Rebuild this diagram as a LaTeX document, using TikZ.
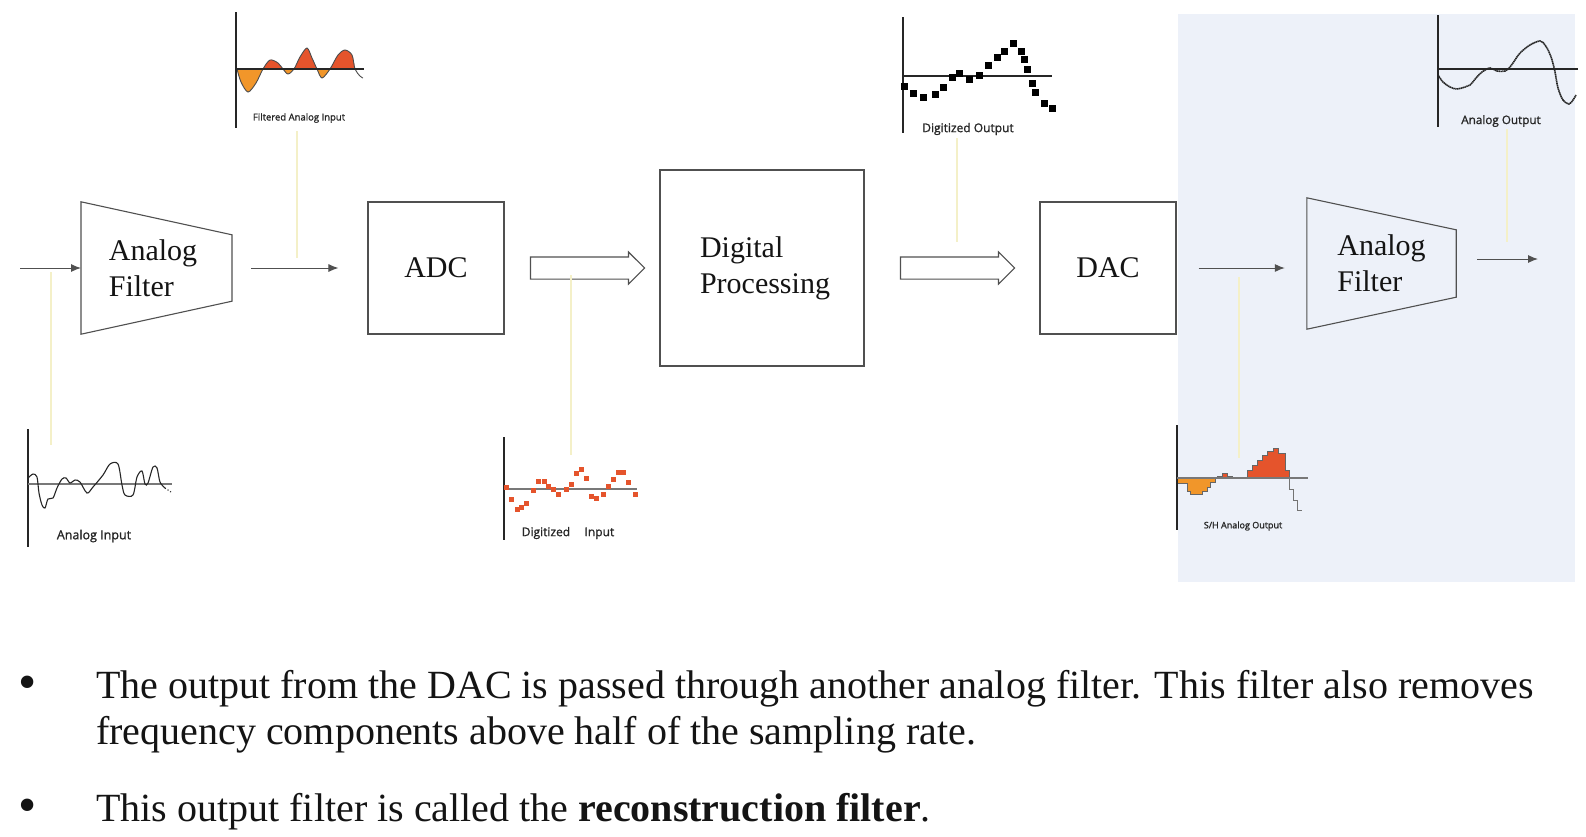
\documentclass[tikz,border=0pt]{standalone}
\usepackage{fontspec}
\setmainfont{Liberation Serif}
\newfontfamily\chartfont{Open Sans}[FakeBold=1.2]
\usetikzlibrary{arrows.meta, shapes.arrows, calc, positioning}
\definecolor{PanelBlue}{RGB}{237,241,249}
\definecolor{BoxGray}{RGB}{80,80,80}
\definecolor{TapYellow}{RGB}{244,240,200}
\definecolor{WaveOrange}{RGB}{241,150,42}
\definecolor{WaveRed}{RGB}{229,84,44}
\definecolor{AxisGray}{RGB}{120,120,120}
\definecolor{TextBlack}{RGB}{20,20,20}
\tikzset{
  >=Latex,
  % blocchi
  block/.style={draw=BoxGray,line width=1.1pt,inner sep=0,font=\fontsize{30}{36}\selectfont,text=TextBlack},
  filter box/.style={inner sep=0,minimum width=151,minimum height=132,align=left,font=\fontsize{30}{36}\selectfont,text=TextBlack},
  filter edge/.style={draw=BoxGray,line width=1.1pt},
  % frecce
  fat arrow/.style={single arrow,draw=BoxGray,line width=1.1pt,inner xsep=0,inner ysep=10.5,minimum height=114,single arrow head extend=5},
  signal arrow/.style={-{Latex[length=10,width=8]},line width=1pt,draw=BoxGray},
  tap line/.style={draw=TapYellow,line width=1.2pt},
  % grafici
  chart axis/.style={draw=black!85,line width=1.2pt},
  zero axis/.style={draw=AxisGray,line width=1.2pt},
  wave/.style={draw=black!85,line width=1.1pt},
  chart label/.style={font=\chartfont\fontsize{#1}{#1}\selectfont,text=black!85,inner sep=0},
  chart label/.default=11,
  bullet text/.style={anchor=base west,font=\fontsize{40}{46}\selectfont,text=TextBlack,inner sep=0}
}

\begin{document}
\begin{tikzpicture}[x=1pt,y=-1pt]
  \useasboundingbox[fill=white] (0,0) rectangle (1586,836);
  % pannello evidenziato
  \fill[PanelBlue] (1178,14) rectangle (1575,582);

  % blocchi della catena
  \node[filter box] (flt1) at (153,268) {Analog\\Filter};
  \draw[filter edge] ([xshift=-72]flt1.center |- flt1.north) -- ([xshift=79,yshift=-33]flt1.center |- flt1.north)
    -- ([xshift=79,yshift=33]flt1.center |- flt1.south) -- ([xshift=-72]flt1.center |- flt1.south) -- cycle;
  \node[block,minimum width=136,minimum height=132] (adc) at (436,268) {ADC};
  \node[block,minimum width=204,minimum height=196,align=left] (dsp) at (762,268) {\hspace*{6pt}Digital\\\hspace*{6pt}Processing};
  \node[block,minimum width=136,minimum height=132] (dac) at (1108,268) {DAC};
  \node[filter box,minimum width=149,minimum height=131] (flt2) at (1381.5,263.5) {Analog\\Filter};
  \draw[filter edge] (flt2.north west) -- ([yshift=-32]flt2.north east)
    -- ([yshift=32]flt2.south east) -- (flt2.south west) -- cycle;
  \coordinate (flt1in) at (81,268);
  \coordinate (flt1out) at (232,268);

  % connessioni
  \coordinate (src) at (20,268);
  \coordinate (sink) at (1538,259);
  \draw[signal arrow] (src) -- (flt1in);
  \draw[signal arrow,shorten <=19,shorten >=29] (flt1out) -- (adc.west);
  \node[fat arrow] (adc2dsp) at ($(adc.east)!.5!(dsp.west)$) {};
  \node[fat arrow] (dsp2dac) at ($(dsp.east)!.5!(dac.west)$) {};
  \draw[signal arrow,shorten <=22,shorten >=22] (dac.east) -- (dac.east -| flt2.west);
  \draw[signal arrow,shorten <=21] (flt2.east |- sink) -- (sink);

  % linee di richiamo
  \foreach \n/\x/\ya/\yb in {ai/51/272/445, fai/297/131/258, di/571/275/455,
                             do/957/138/242, sh/1239/277/458, ao/1507/129/242} {
    \coordinate (tap\n a) at (\x,\ya);
    \coordinate (tap\n b) at (\x,\yb);
    \draw[tap line] (tap\n a) -- (tap\n b);
  }

  % Analog Input
  \draw[chart axis] (28,429) -- (28,547);
  \draw[zero axis] (28,484) -- (172,484);
  \draw[wave] plot[smooth,tension=0.5] coordinates {(28,478) (33,474) (37,477) (39,493) (42,505)
    (45,508) (48,499) (53,498) (57,488) (62,479) (66,478) (70,483) (75,480) (80,482) (87,493)
    (93,487) (103,475) (110,464) (118,464) (122,485) (125,495) (133,495) (137,477) (142,471)
    (145,484) (148,483) (153,467) (157,468) (160,482) (165,488)};
  \draw[wave,dotted] (165,488) -- (171,492);
  \node[chart label=12.5] (lblai) at (94,536) {Analog Input};

  % Filtered Analog Input
  \begin{scope}
    \clip (236,0) rectangle (364,69);
    \fill[WaveRed] plot[smooth,tension=0.5] coordinates {(237,69) (241,82) (248,92) (256,83) (263,69)
      (270,60) (278,63) (283,69) (288,74) (294,69) (300,57) (307,48) (312,58) (317,69) (322,78)
      (330,69) (338,55) (345,50) (352,55) (355,69)} -- cycle;
  \end{scope}
  \begin{scope}
    \clip (236,69) rectangle (364,120);
    \fill[WaveOrange] plot[smooth,tension=0.5] coordinates {(237,69) (241,82) (248,92) (256,83) (263,69)
      (270,60) (278,63) (283,69) (288,74) (294,69) (300,57) (307,48) (312,58) (317,69) (322,78)
      (330,69) (338,55) (345,50) (352,55) (355,69)} -- cycle;
  \end{scope}
  \draw[wave,line width=0.9pt,draw=black!70] plot[smooth,tension=0.5] coordinates {(237,69) (241,82) (248,92)
    (256,83) (263,69) (270,60) (278,63) (283,69) (288,74) (294,69) (300,57) (307,48) (312,58)
    (317,69) (322,78) (330,69) (338,55) (345,50) (352,55) (355,69) (360,76) (363,78)};
  \draw[chart axis] (236,12) -- (236,128);
  \draw[chart axis] (236,69) -- (364,69);
  \node[chart label=9.5] (lblfai) at (299,118) {Filtered Analog Input};

  % Digitized Input
  \draw[chart axis] (504,437) -- (504,540);
  \draw[zero axis] (504,489) -- (637,489);
  \foreach \x/\y in {506/487,511/499,517/509,521/507,526/503,533/490,538/481,544/481,548/486,
                     553/489,558/494,566/489,571/484,576/473,581/469,586/478,591/496,596/498,
                     603/494,608/486,613/479,618/472,623/472,628/482,635/494}
    \fill[WaveRed] (\x-2.5,\y-2.5) rectangle ++(5,5);
  \node[chart label=12] (lbldi) at (568,533) {Digitized\hspace{1.2em}Input};

  % Digitized Output
  \draw[chart axis] (903,17) -- (903,133);
  \draw[chart axis] (903,76) -- (1052,76);
  \foreach \x/\y in {904/86,913/93,923/97,935/94,943/87,952/77,959/73,969/79,979/75,988/65,
                     997/57,1004/51,1013/43,1021/51,1024/59,1027/69,1032/83,1035/92,1044/103,1052/108}
    \fill[black] (\x-3.5,\y-3.5) rectangle ++(7,7);
  \node[chart label=12] (lbldo) at (968,129) {Digitized Output};

  % S/H Analog Output
  \filldraw[fill=WaveOrange,draw=black!60,line width=0.7pt] (1177,478) -- (1177,483) -- (1187,483)
    -- (1187,491) -- (1190,491) -- (1190,494) -- (1202,494) -- (1202,491) -- (1207,491)
    -- (1207,487) -- (1210,487) -- (1210,482) -- (1215,482) -- (1215,478) -- cycle;
  \filldraw[fill=WaveRed,draw=black!60,line width=0.7pt] (1217,478) -- (1217,476) -- (1222,476)
    -- (1222,473) -- (1227,473) -- (1227,476) -- (1232,476) -- (1232,478) -- cycle;
  \filldraw[fill=WaveRed,draw=black!60,line width=0.7pt] (1247,478) -- (1247,470) -- (1252,470)
    -- (1252,465) -- (1257,465) -- (1257,460) -- (1262,460) -- (1262,455) -- (1267,455)
    -- (1267,451) -- (1273,451) -- (1273,448) -- (1278,448) -- (1278,453) -- (1285,453)
    -- (1285,470) -- (1289,470) -- (1289,478) -- cycle;
  \draw[draw=black!55,line width=0.8pt] (1289,478) -- (1289,489) -- (1293,489) -- (1293,500)
    -- (1297,500) -- (1297,510) -- (1302,510);
  \draw[chart axis] (1177,425) -- (1177,530);
  \draw[zero axis] (1177,478) -- (1308,478);
  \node[chart label=9] (lblsh) at (1243,526) {S/H Analog Output};

  % Analog Output
  \draw[chart axis] (1438,15) -- (1438,127);
  \draw[chart axis] (1438,69) -- (1578,69);
  \draw[wave,line width=1.6pt,dash pattern=on 1.4pt off 0.5pt] plot[smooth,tension=0.6] coordinates {(1438,75)
    (1443,82) (1450,87) (1457,89) (1465,87) (1470,85) (1476,78) (1482,72) (1490,68) (1497,71)
    (1505,71) (1510,67) (1515,60) (1520,53) (1530,45) (1540,41) (1545,45) (1549,52) (1552,60)
    (1555,72) (1558,88) (1563,100) (1569,104) (1573,100) (1576,95)};
  \node[chart label=11.7] (lblao) at (1501,121) {Analog Output};

  % testo
  \node[bullet text,font=\fontsize{52}{52}\selectfont] (dot1) at (18,699) {\textbullet};
  \node[bullet text] (line1) at (96,698) {The output from the DAC is passed through another analog filter. This filter also removes};
  \node[bullet text] (line2) at (96,744) {frequency components above half of the sampling rate.};
  \node[bullet text,font=\fontsize{52}{52}\selectfont] (dot2) at (18,822) {\textbullet};
  \node[bullet text] (line3) at (96,821) {This output filter is called the \textbf{reconstruction filter}.};
\end{tikzpicture}
\end{document}
